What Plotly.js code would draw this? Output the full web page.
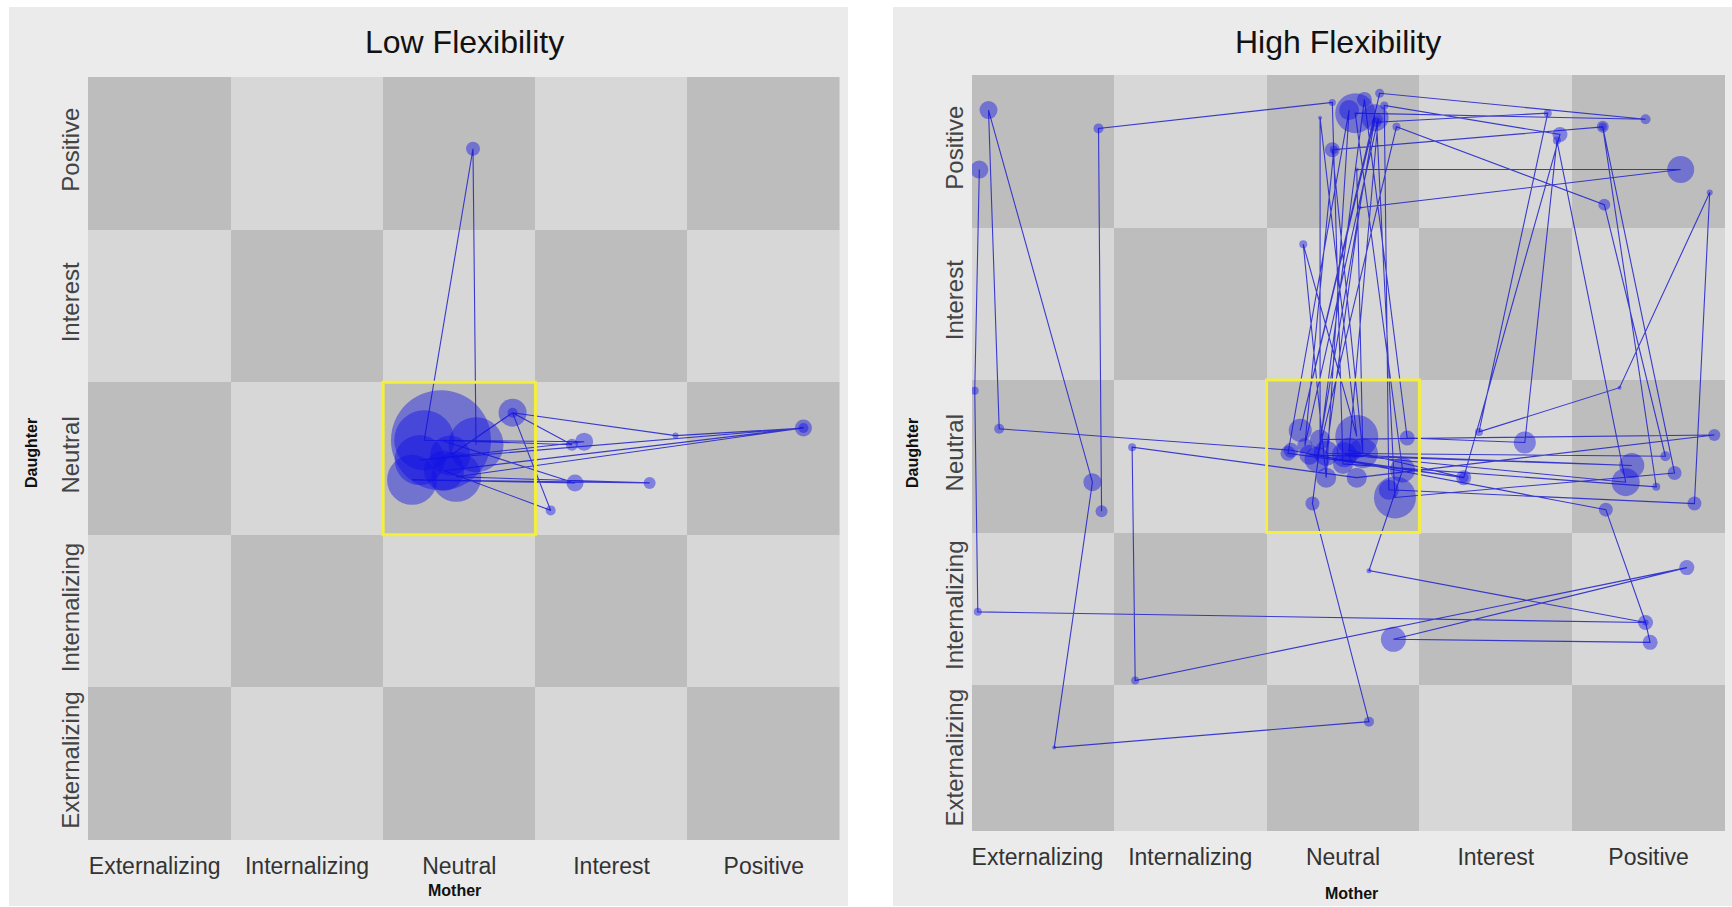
<!DOCTYPE html>
<html>
<head>
<meta charset="utf-8">
<script src="https://cdn.plot.ly/plotly-3.0.1.min.js"></script>
<style>html,body{margin:0;padding:0;background:#fff;}#chart{width:1732px;height:907px;}</style>
</head>
<body>
<div id="chart"></div>
<script>
// ---- data ----
const categories = ['Externalizing', 'Internalizing', 'Neutral', 'Interest', 'Positive'];
const panelTitles = ['Low Flexibility', 'High Flexibility'];
const xAxisTitle = 'Mother';
const yAxisTitle = 'Daughter';

// Low flexibility trajectory (mother state, daughter state, duration -> marker size)
const lowMother   = [3.11, 3.09, 2.77, 3.82, 2.74, 5.26, 2.98, 4.25, 2.69, 3.76, 2.88, 3.74, 3.35, 4.42, 5.26, 2.90, 3.60, 3.35, 2.94];
const lowDaughter = [3.09, 5.03, 3.12, 3.11, 2.99, 3.20, 2.88, 2.84, 2.86, 2.84, 3.12, 3.09, 3.30, 3.15, 3.20, 2.92, 2.66, 3.30, 3.02];
const lowDuration = [55, 14, 60, 18, 50, 17, 50, 12, 50, 17, 100, 12, 28, 6, 10, 40, 10, 10, 40];

// High flexibility trajectory
const highMother = [
  0.62, 0.59, 0.61, 4.98, 3.17, 3.39, 3.08, 4.98, 3.24, 2.72,
  3.21, 2.83, 3.35, 4.71, 5.11, 2.89, 3.11, 5.21, 3.09, 3.13,
  2.93, 4.70, 5.17, 3.34, 3.22, 4.34, 3.89, 4.81, 5.40, 5.30,
  3.30, 3.27, 4.42, 3.79, 2.64, 3.04, 2.89, 2.74, 3.09, 2.85,
  2.85, 5.43, 3.09, 1.62, 1.64, 5.25, 3.33, 5.01, 4.98, 4.72,
  2.66, 0.75, 0.68, 1.36, 1.11, 3.17, 2.80, 3.14, 3.42, 4.19,
  4.40, 4.85, 3.01, 4.89, 2.78, 3.79, 3.04, 3.23, 2.75, 2.94,
  4.70, 5.05, 3.00, 2.93, 1.40, 1.42];
const highDaughter = [
  4.88, 3.43, 1.98, 1.91, 2.25, 2.91, 5.25, 5.21, 5.38, 3.17,
  5.22, 2.98, 5.16, 4.65, 3.00, 3.02, 4.63, 4.88, 4.88, 3.02,
  5.01, 5.16, 2.89, 2.73, 5.19, 5.25, 3.16, 3.45, 4.73, 2.69,
  2.78, 5.30, 5.11, 2.86, 3.02, 5.27, 2.86, 4.39, 3.13, 5.22,
  3.11, 3.14, 2.86, 3.06, 1.53, 2.27, 1.80, 1.78, 1.91, 2.65,
  3.04, 3.18, 5.27, 2.83, 1.09, 1.26, 2.69, 5.34, 3.12, 3.09,
  5.07, 2.83, 3.01, 2.94, 3.01, 2.86, 3.04, 5.21, 3.07, 5.01,
  5.16, 2.80, 2.95, 5.32, 5.15, 2.64];
const highDuration = [
  18, 8, 8, 15, 5, 25, 40, 10, 9, 23,
  27, 25, 8, 12, 10, 25, 4, 27, 4, 30,
  15, 12, 14, 42, 10, 8, 8, 4, 6, 14,
  20, 8, 15, 15, 15, 20, 20, 8, 43, 4,
  20, 12, 20, 8, 8, 15, 25, 15, 6, 14,
  15, 10, 18, 18, 4, 10, 14, 15, 15, 22,
  8, 28, 25, 25, 20, 10, 25, 10, 15, 8,
  8, 8, 20, 7, 10, 12];

// ---- layout geometry (pixels in a 1732 x 907 page) ----
const W = 1732, H = 907;
const panels = [
  {bg: [9, 848, 7, 906], plot: [88, 840, 77, 840], xr: [0.562, 5.5], yr: [0.5, 5.5], title: [464, 42], xt: [454, 890], yt: [31, 453]},
  {bg: [893, 1732, 7, 906], plot: [972, 1725, 75, 831], xr: [0.572, 5.5], yr: [0.543, 5.5], title: [1338, 42], xt: [1351, 893], yt: [912, 453]}
];
const FONT = 'Liberation Sans, Arial, Helvetica, sans-serif';
const px = v => v / W, py = v => 1 - v / H;

const idx = categories.map((c, i) => i + 1);
const checkerZ = idx.map((_, j) => idx.map((_, i) => ((i + j) % 2 === 0 ? 1 : 0)));

const series = [
  {x: lowMother, y: lowDaughter, s: lowDuration},
  {x: highMother, y: highDaughter, s: highDuration}
];

const traces = [];
const layout = {
  width: W, height: H,
  margin: {l: 0, r: 0, t: 0, b: 0},
  paper_bgcolor: '#ffffff',
  plot_bgcolor: 'rgba(0,0,0,0)',
  showlegend: false,
  font: {family: FONT, color: '#333'},
  shapes: [],
  annotations: []
};

panels.forEach((p, k) => {
  const xa = k === 0 ? 'x' : 'x2', ya = k === 0 ? 'y' : 'y2';
  const xkey = k === 0 ? 'xaxis' : 'xaxis2', ykey = k === 0 ? 'yaxis' : 'yaxis2';
  traces.push({
    type: 'heatmap', x: idx, y: idx, z: checkerZ, xaxis: xa, yaxis: ya,
    colorscale: [[0, '#d7d7d7'], [1, '#bdbdbd']], showscale: false, zmin: 0, zmax: 1,
    hoverinfo: 'skip', xgap: 0, ygap: 0
  });
  traces.push({
    type: 'scatter', mode: 'lines+markers', x: series[k].x, y: series[k].y, xaxis: xa, yaxis: ya,
    line: {color: 'rgba(30,30,205,0.85)', width: 1.1},
    marker: {size: series[k].s, color: 'rgba(15,15,230,0.62)', line: {width: 0}},
    hoverinfo: 'x+y'
  });
  layout[xkey] = {
    domain: [px(p.plot[0]), px(p.plot[1])], range: p.xr, anchor: ya,
    tickvals: idx, ticktext: categories, ticks: '', showgrid: false, zeroline: false, showline: false,
    tickfont: {family: FONT, size: 23, color: '#333'}, fixedrange: true, ticklabelstandoff: 10
  };
  layout[ykey] = {
    domain: [py(p.plot[3]), py(p.plot[2])], range: p.yr, anchor: xa,
    tickvals: idx, ticktext: categories, ticks: '', showgrid: false, zeroline: false, showline: false,
    tickangle: -90, tickfont: {family: FONT, size: 24, color: '#444'}, fixedrange: true, ticklabelstandoff: 3
  };
  layout.shapes.push({type: 'rect', xref: 'paper', yref: 'paper', layer: 'below',
    x0: px(p.bg[0]), x1: px(p.bg[1]), y0: py(p.bg[3]), y1: py(p.bg[2]),
    fillcolor: '#ebebeb', line: {width: 0}});
  layout.shapes.push({type: 'rect', xref: xa, yref: ya, layer: 'above',
    x0: 2.5, x1: 3.5, y0: 2.5, y1: 3.5, fillcolor: 'rgba(0,0,0,0)', line: {color: '#f4ef3a', width: 3}});
  layout.annotations.push({xref: 'paper', yref: 'paper', x: px(p.title[0]), y: py(p.title[1]),
    text: panelTitles[k], showarrow: false, xanchor: 'center', yanchor: 'middle',
    font: {family: FONT, size: 32, color: '#111'}});
  layout.annotations.push({xref: 'paper', yref: 'paper', x: px(p.xt[0]), y: py(p.xt[1]),
    text: '<b>' + xAxisTitle + '</b>', showarrow: false, xanchor: 'center', yanchor: 'middle',
    font: {family: FONT, size: 16, color: '#111'}});
  layout.annotations.push({xref: 'paper', yref: 'paper', x: px(p.yt[0]), y: py(p.yt[1]),
    text: '<b>' + yAxisTitle + '</b>', showarrow: false, xanchor: 'center', yanchor: 'middle', textangle: -90,
    font: {family: FONT, size: 16, color: '#111'}});
});

Plotly.newPlot('chart', traces, layout, {displayModeBar: false, staticPlot: true});
</script>
</body>
</html>
